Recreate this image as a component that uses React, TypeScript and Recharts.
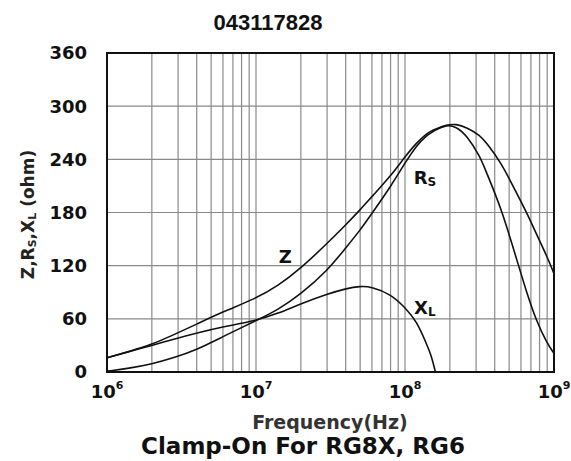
import {
  LineChart,
  Line,
  XAxis,
  YAxis,
  CartesianGrid,
  ReferenceArea,
  ReferenceDot,
  Label,
} from 'recharts';

// frequency points (Hz)
const freqHz = [
  1e6, 1.4e6, 2e6, 2.8e6, 4e6, 6e6, 1e7, 1.4e7, 2e7, 3e7, 4e7, 5e7, 6e7, 8e7,
  1e8, 1.2e8, 1.4e8, 1.5e8, 1.6e8, 1.9e8, 2.2e8, 2.6e8, 3.2e8, 3.5e8, 4.4e8,
  5.6e8, 6.6e8, 7.6e8, 9e8, 1e9,
];
const zOhm = [
  16, 23, 31, 42, 54, 68, 83, 97, 117, 145, 166, 183, 198, 221, 243, 259, 269,
  272, 274, 279, 280, 276, 267, 259, 237, 202, 179, 156, 130, 111,
];
const rsOhm = [
  1, 4, 9, 16, 25, 40, 58, 70, 88, 114, 140, 160, 179, 209, 236, 256, 267, 270,
  273, 279, 277, 267, 243, 226, 186, 128, 88, 58, 32, 21,
];
const xlOhm = [
  16, 23, 30, 37, 44, 51, 58, 66, 77, 88, 94, 97, 96, 88, 73, 57, 31, 19, 0,
  null, null, null, null, null, null, null, null, null, null, null,
];

const xTicks = [
  1e6, 2e6, 3e6, 4e6, 5e6, 6e6, 7e6, 8e6, 9e6,
  1e7, 2e7, 3e7, 4e7, 5e7, 6e7, 7e7, 8e7, 9e7,
  1e8, 2e8, 3e8, 4e8, 5e8, 6e8, 7e8, 8e8, 9e8, 1e9,
];
const yTicks = [0, 60, 120, 180, 240, 300, 360];

// curve name labels, anchored in data units
const curveLabels = [
  { name: 'Z', sub: '', f: 1.57e7, ohm: 130 },
  { name: 'R', sub: 'S', f: 1.36e8, ohm: 220 },
  { name: 'X', sub: 'L', f: 1.36e8, ohm: 73 },
];

const data = freqHz.map((f, i) => ({
  f,
  z: zOhm[i],
  rs: rsOhm[i],
  xl: xlOhm[i],
}));

const axisFont = '"DejaVu Sans", Verdana, sans-serif';

function XTick(props: any) {
  const { x, y, payload } = props;
  const exp = Math.log10(payload.value);
  if (Math.abs(exp - Math.round(exp)) > 1e-6) return <g />;
  return (
    <text
      x={x}
      y={y + 18}
      textAnchor="middle"
      fontFamily={axisFont}
      fontWeight="bold"
      fontSize={18}
      fill="#111"
    >
      10
      <tspan dy={-9} fontSize={11}>
        {Math.round(exp)}
      </tspan>
    </text>
  );
}

function YLabel(props: any) {
  const { viewBox } = props;
  const cx = viewBox.x - 19;
  const cy = viewBox.y + viewBox.height / 2 + 2;
  return (
    <text
      x={cx}
      y={cy}
      transform={`rotate(-90, ${cx}, ${cy})`}
      textAnchor="middle"
      dominantBaseline="central"
      fontFamily={axisFont}
      fontWeight="bold"
      fontSize={17}
      fill="#222"
    >
      Z,R
      <tspan dy={4} fontSize={11}>S</tspan>
      <tspan dy={-4}>,X</tspan>
      <tspan dy={4} fontSize={11}>L</tspan>
      <tspan dy={-4}> (ohm)</tspan>
    </text>
  );
}

const curveLabel = (name: string, sub: string) => (props: any) => {
  const { viewBox } = props;
  const cx = viewBox.x + viewBox.width / 2;
  const cy = viewBox.y + viewBox.height / 2;
  return (
    <text
      x={cx}
      y={cy}
      textAnchor="middle"
      dominantBaseline="central"
      fontFamily={axisFont}
      fontWeight="bold"
      fontSize={18}
      fill="#111"
    >
      {name}
      {sub && (
        <tspan dy={5} fontSize={12}>
          {sub}
        </tspan>
      )}
    </text>
  );
};

export default function App() {
  return (
    <div style={{ position: 'absolute', left: 0, top: 0, width: 571, height: 461, background: '#fff' }}>
      <LineChart
        width={571}
        height={461}
        data={data}
        margin={{ top: 53, right: 17, bottom: 49, left: 47 }}
      >
        <CartesianGrid stroke="#8a8a8a" strokeWidth={1.2} />
        <XAxis
          dataKey="f"
          type="number"
          scale="log"
          domain={[1e6, 1e9]}
          ticks={xTicks}
          interval={0}
          allowDataOverflow
          axisLine={false}
          tickLine={false}
          tickSize={8}
          tickMargin={0}
          height={40}
          tick={<XTick />}
        />
        <YAxis
          type="number"
          domain={[0, 360]}
          ticks={yTicks}
          interval={0}
          width={60}
          axisLine={false}
          tickLine={false}
          tickSize={20}
          tickMargin={0}
          tick={{ fontFamily: axisFont, fontWeight: 'bold', fontSize: 18, fill: '#111' }}
        >
          <Label content={<YLabel />} />
        </YAxis>
        <ReferenceArea
          x1={1e6}
          x2={1e9}
          y1={0}
          y2={360}
          fill="none"
          stroke="#111"
          strokeWidth={2}
        />
        <Line type="basis" dataKey="z" stroke="#111" strokeWidth={1.6} dot={false} isAnimationActive={false} />
        <Line type="basis" dataKey="rs" stroke="#111" strokeWidth={1.6} dot={false} isAnimationActive={false} />
        <Line type="basis" dataKey="xl" stroke="#111" strokeWidth={1.6} dot={false} isAnimationActive={false} />
        {curveLabels.map((c) => (
          <ReferenceDot
            key={c.name}
            x={c.f}
            y={c.ohm}
            r={1}
            fill="none"
            stroke="none"
            label={{ content: curveLabel(c.name, c.sub) }}
          />
        ))}
      </LineChart>
      <svg
        width={571}
        height={461}
        style={{ position: 'absolute', left: 0, top: 0, pointerEvents: 'none' }}
      >
        <text x={268} y={30} textAnchor="middle" fontFamily='"Liberation Sans", Arial, sans-serif' fontWeight="bold" fontSize={22} fill="#111">
          043117828
        </text>
        <text x={330} y={429} textAnchor="middle" fontFamily={axisFont} fontWeight="bold" fontSize={19} fill="#333">
          Frequency(Hz)
        </text>
        <text x={303} y={454} textAnchor="middle" fontFamily={axisFont} fontWeight="bold" fontSize={23} fill="#111">
          Clamp-On For RG8X, RG6
        </text>
      </svg>
    </div>
  );
}
